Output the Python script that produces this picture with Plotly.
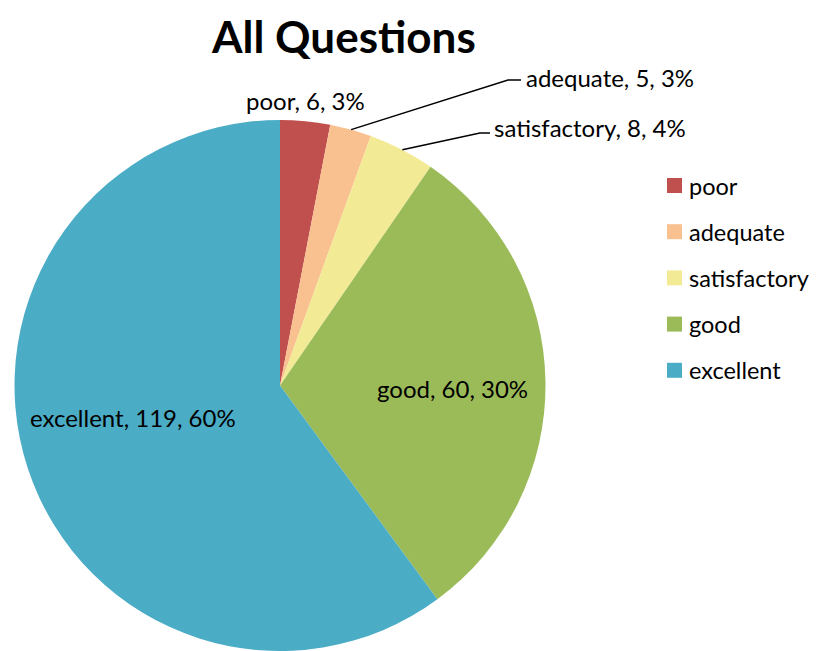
import math
import plotly.graph_objects as go

# ---- data ----
categories = ["poor", "adequate", "satisfactory", "good", "excellent"]
counts = [6, 5, 8, 60, 119]
colors = ["#C0504D", "#F9C090", "#F3EA96", "#9BBB59", "#4BACC6"]
title_text = "All Questions"

# ---- layout constants (pixels in the browser window) ----
W, H = 809, 643
OFF = 8  # default page body margin
CX, CY, R = 280, 387, 267
FONT = "Lato, 'Open Sans', sans-serif"
LABEL_SIZE = 24

def px(x):
    return (x - OFF) / W

def py(y):
    return 1 - (y - OFF) / H

# label positions (text center, px)
label_pos = {
    "poor": (305, 100, False),
    "adequate": (610, 77, True),
    "satisfactory": (590, 128, True),
    "good": (452, 388, False),
    "excellent": (133, 417, False),
}
elbow = {
    "adequate": (508, 80, 521, 80),
    "satisfactory": (480, 133, 490, 133),
}

fig = go.Figure(
    go.Pie(
        labels=categories,
        values=counts,
        marker=dict(colors=colors, line=dict(width=0)),
        sort=False,
        direction="clockwise",
        rotation=0,
        textinfo="none",
        hoverinfo="label+value+percent",
        showlegend=False,
        domain=dict(x=[max(0, px(CX - R)), px(CX + R)],
                    y=[max(0, py(CY + R)), py(CY - R)]),
    )
)

total = sum(counts)
annotations = []
shapes = []
cum = 0
for cat, val in zip(categories, counts):
    mid = (cum + val / 2) / total * 2 * math.pi
    cum += val
    pct = round(val / total * 100)
    tx, ty, leader = label_pos[cat]
    annotations.append(dict(
        x=px(tx), y=py(ty), xref="paper", yref="paper",
        text=f"{cat}, {val}, {pct}%", showarrow=False,
        font=dict(family=FONT, size=LABEL_SIZE, color="#000000"),
        xanchor="center", yanchor="middle",
    ))
    if leader:
        ex = CX + R * math.sin(mid)
        ey = CY - R * math.cos(mid)
        x1, y1, x2, y2 = elbow[cat]
        shapes.append(dict(
            type="path", xref="paper", yref="paper",
            path=f"M {px(ex)} {py(ey)} L {px(x1)} {py(y1)} L {px(x2)} {py(y2)}",
            line=dict(color="#000000", width=1.5),
        ))

# manual legend
LEG_X, LEG_Y0, LEG_DY, SQ = 667, 185.5, 46.2, 15
for i, (cat, col) in enumerate(zip(categories, colors)):
    yc = LEG_Y0 + i * LEG_DY
    shapes.append(dict(
        type="rect", xref="paper", yref="paper",
        x0=px(LEG_X), x1=px(LEG_X + SQ), y0=py(yc + SQ / 2), y1=py(yc - SQ / 2),
        fillcolor=col, line=dict(width=0),
    ))
    annotations.append(dict(
        x=px(LEG_X + SQ + 5), y=py(yc), xref="paper", yref="paper",
        text=cat, showarrow=False,
        font=dict(family=FONT, size=23.5, color="#000000"),
        xanchor="left", yanchor="middle",
    ))

annotations.append(dict(
    x=px(343), y=py(8), xref="paper", yref="paper",
    text=f"<b>{title_text}</b>", showarrow=False,
    font=dict(family=FONT, size=44, color="#000000"),
    xanchor="center", yanchor="top",
))

fig.update_layout(
    width=W, height=H,
    margin=dict(l=0, r=0, t=0, b=0),
    paper_bgcolor="#FFFFFF",
    plot_bgcolor="#FFFFFF",
    annotations=annotations,
    shapes=shapes,
    showlegend=False,
)

fig.write_html("out.html")
